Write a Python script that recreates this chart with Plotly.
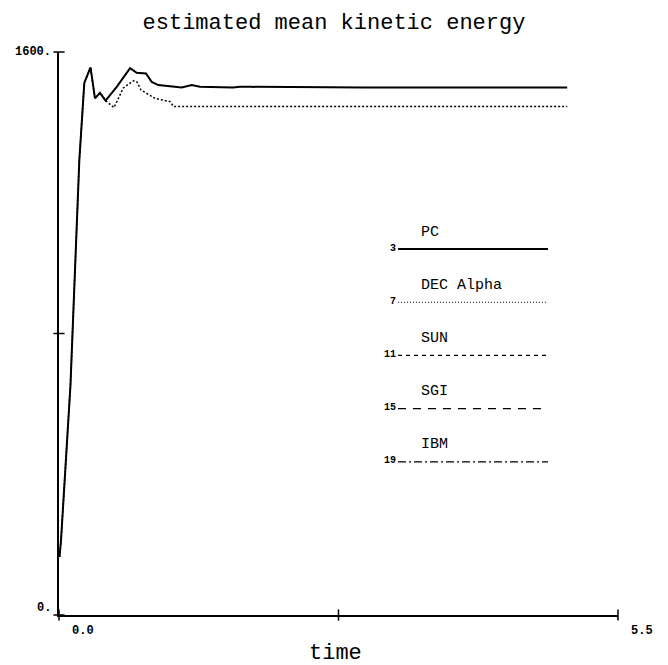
import plotly.graph_objects as go

# ---- data ----
pc_time = [0.005, 0.02, 0.113, 0.20, 0.249, 0.31, 0.354, 0.403, 0.458, 0.568, 0.699, 0.765,
           0.856, 0.912, 0.977, 1.122, 1.207, 1.306, 1.387, 1.712, 1.781, 1.879, 2.5, 3.0,
           3.5, 4.0, 4.5, 5.0]
pc_energy = [165, 213, 654, 1293, 1512, 1556, 1468, 1484, 1462, 1501, 1554, 1541,
             1539, 1515, 1506, 1502, 1499, 1506, 1501, 1499, 1501, 1501, 1499, 1499,
             1499, 1499, 1499, 1499]

dec_time = [0.005, 0.02, 0.113, 0.20, 0.249, 0.31, 0.354, 0.403, 0.458, 0.541, 0.633, 0.731,
            0.765, 0.807, 0.945, 1.092, 1.127, 1.256, 2.0, 2.5, 3.0, 3.5, 4.0, 4.5, 5.0]
dec_energy = [165, 213, 654, 1293, 1512, 1556, 1468, 1484, 1462, 1442, 1498, 1518,
              1516, 1492, 1468, 1459, 1445, 1445, 1445, 1445, 1445, 1445, 1445, 1445, 1445]

legend_names = ["PC", "DEC Alpha", "SUN", "SGI", "IBM"]
legend_ids = ["3", "7", "11", "15", "19"]
legend_dash = ["solid", "1px,2px", "4px,4px", "8px,7px", "8px,3px,2px,3px"]
legend_width = [2, 1, 1.2, 1.2, 1.2]

x_ticks = [0, 2.75, 5.5]
y_ticks = [0, 800, 1600]
x_tick_labels = {0: "0.0", 5.5: "5.5"}
y_tick_labels = {0: "0.", 1600: "1600."}

MONO = "Liberation Mono, Courier New, monospace"

fig = go.Figure()
fig.add_trace(go.Scatter(x=dec_time, y=dec_energy, mode="lines",
                         line=dict(color="black", width=1.5, dash="2px,2px"),
                         showlegend=False, hoverinfo="skip"))
fig.add_trace(go.Scatter(x=pc_time, y=pc_energy, mode="lines",
                         line=dict(color="black", width=2),
                         showlegend=False, hoverinfo="skip"))

# crossing tick marks
fig.add_trace(go.Scatter(x=x_ticks, y=[0] * len(x_ticks), mode="markers",
                         marker=dict(symbol="line-ns", size=8, line=dict(color="black", width=1.5)),
                         cliponaxis=False, showlegend=False, hoverinfo="skip"))
fig.add_trace(go.Scatter(x=[0] * len(y_ticks), y=y_ticks, mode="markers",
                         marker=dict(symbol="line-ew", size=8, line=dict(color="black", width=1.5)),
                         cliponaxis=False, showlegend=False, hoverinfo="skip"))

annotations = []
for v, t in x_tick_labels.items():
    annotations.append(dict(x=v, y=0, xref="x", yref="y", text="<b>" + t + "</b>", showarrow=False,
                            xanchor="center", yanchor="middle", xshift=24, yshift=-16,
                            font=dict(family=MONO, size=12, color="black")))
for v, t in y_tick_labels.items():
    annotations.append(dict(x=0, y=v, xref="x", yref="y", text="<b>" + t + "</b>", showarrow=False,
                            xanchor="right", yanchor="middle", xshift=-6, yshift=(7 if v == 0 else 0),
                            font=dict(family=MONO, size=12, color="black")))

# legend block (paper coords of the plot area)
lx0, lx1 = 0.6064, 0.8748
ly0, lstep = 0.650, 0.0945
shapes = []
for i, (name, lid, dash, w) in enumerate(zip(legend_names, legend_ids, legend_dash, legend_width)):
    yy = ly0 - i * lstep
    shapes.append(dict(type="line", xref="paper", yref="paper", x0=lx0, x1=lx1, y0=yy, y1=yy,
                       line=dict(color="black", width=w, dash=dash)))
    annotations.append(dict(x=lx0, y=yy, xref="paper", yref="paper", text="<b>" + lid + "</b>",
                            showarrow=False, xanchor="right", yanchor="middle", yshift=1,
                            font=dict(family=MONO, size=10, color="black")))
    annotations.append(dict(x=0.644, y=yy, xref="paper", yref="paper", text=name,
                            showarrow=False, xanchor="left", yanchor="middle", yshift=17,
                            font=dict(family=MONO, size=15, color="black")))

annotations.append(dict(x=0.494, y=-0.0675, xref="paper", yref="paper", text="time", showarrow=False,
                        xanchor="center", yanchor="middle",
                        font=dict(family=MONO, size=22, color="black")))

fig.update_layout(
    width=668, height=665,
    margin=dict(l=59, r=50, t=52, b=50),
    paper_bgcolor="white", plot_bgcolor="white",
    title=dict(text="estimated mean kinetic energy", x=0.5, xref="container", y=1 - 21 / 665,
               yref="container", xanchor="center", yanchor="middle",
               font=dict(family=MONO, size=22, color="black")),
    xaxis=dict(range=[0, 5.5], showgrid=False, zeroline=False, showline=True, linecolor="black",
               linewidth=2, showticklabels=False, ticks=""),
    yaxis=dict(range=[0, 1600], showgrid=False, zeroline=False, showline=True, linecolor="black",
               linewidth=2, showticklabels=False, ticks=""),
    shapes=shapes,
    annotations=annotations,
    showlegend=False,
)

fig.write_html("out.html")
